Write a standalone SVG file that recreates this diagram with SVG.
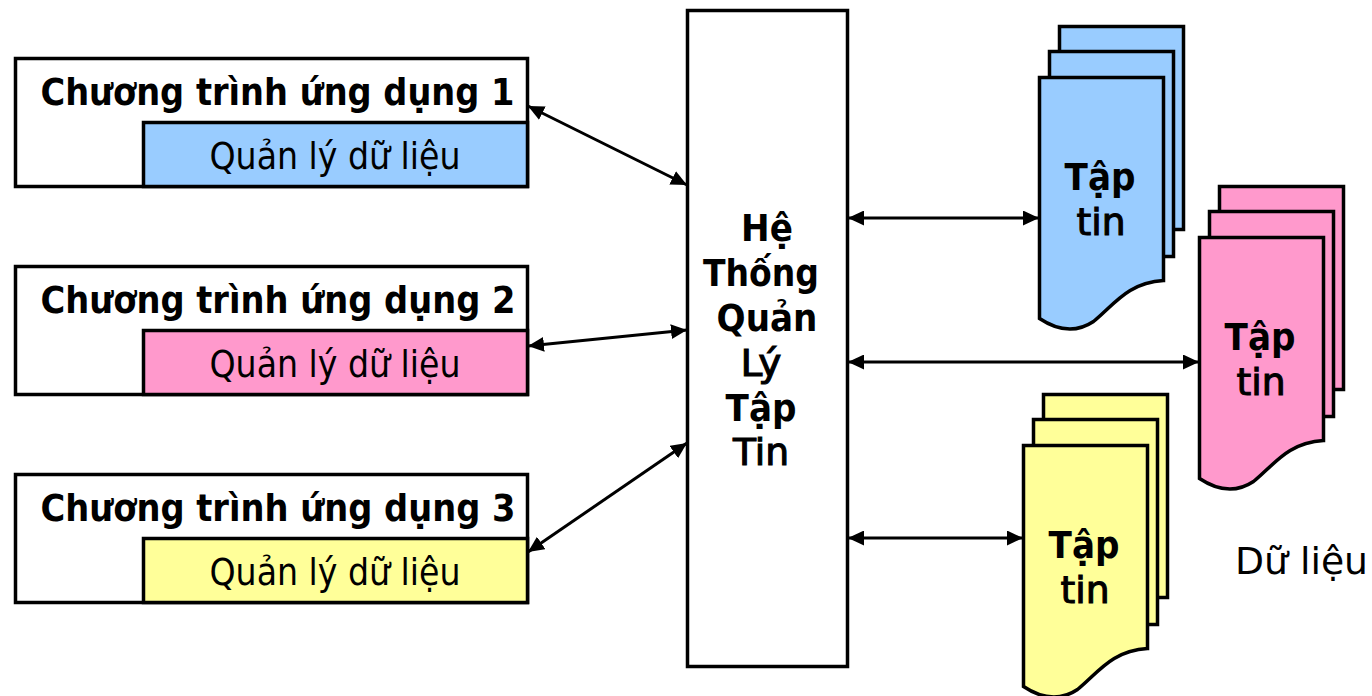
<svg xmlns="http://www.w3.org/2000/svg" xmlns:xlink="http://www.w3.org/1999/xlink" width="1372" height="696" viewBox="0 0 1372 696">
<style>
text{font-family:"DejaVu Sans","Liberation Sans",sans-serif;fill:#000;text-anchor:middle;font-stretch:condensed}
.b{font-weight:bold}
.app{font-size:38px}
.sub{font-size:38px}
.mid{font-size:38px}
.med{stroke:#000;stroke-width:1}
.box{stroke:#000;stroke-width:3.5;fill:#fff}
.blue{fill:#99ccff}.pink{fill:#ff99cc}.yellow{fill:#ffff99}
.c{stroke:#000;stroke-width:3;fill:none;marker-start:url(#a);marker-end:url(#a)}
.sheet{stroke:#000;stroke-width:3.5}
</style>
<defs>
<marker id="a" markerUnits="userSpaceOnUse" markerWidth="17" markerHeight="15" refX="16" refY="7.5" orient="auto-start-reverse"><path d="M0 0L16 7.5L0 15Z" fill="#000"/></marker>
<g id="doc">
<rect class="sheet" x="20" y="-51" width="124" height="203"/>
<rect class="sheet" x="10" y="-26" width="124" height="205"/>
<path class="sheet" d="M0 0H124V203C88 205 74 228 54 244C36 256 18 253 0 241Z"/>
</g>
</defs>
<g id="connectors">
<line class="c" x1="528" y1="106" x2="687" y2="185"/>
<line class="c" x1="528" y1="346" x2="687" y2="330"/>
<line class="c" x1="528" y1="552" x2="687" y2="443"/>
<line class="c" x1="848" y1="218" x2="1039" y2="218"/>
<line class="c" x1="848" y1="362" x2="1199" y2="362"/>
<line class="c" x1="848" y1="538" x2="1023" y2="538"/>
</g>
<g id="app1">
<rect class="box" x="15.5" y="58.5" width="512" height="128"/>
<rect class="box blue" x="143.5" y="122.5" width="384" height="64"/>
<text class="app b" x="277.5" y="105" textLength="474" lengthAdjust="spacingAndGlyphs">Chương trình ứng dụng 1</text>
<text class="sub" x="335" y="169" textLength="251" lengthAdjust="spacingAndGlyphs">Quản lý dữ liệu</text>
</g>
<g id="app2">
<rect class="box" x="15.5" y="266.5" width="512" height="128"/>
<rect class="box pink" x="143.5" y="330.5" width="384" height="64"/>
<text class="app b" x="278" y="313" textLength="475" lengthAdjust="spacingAndGlyphs">Chương trình ứng dụng 2</text>
<text class="sub" x="335" y="377" textLength="251" lengthAdjust="spacingAndGlyphs">Quản lý dữ liệu</text>
</g>
<g id="app3">
<rect class="box" x="15.5" y="474.5" width="512" height="128"/>
<rect class="box yellow" x="143.5" y="538.5" width="384" height="64"/>
<text class="app b" x="278" y="521" textLength="475" lengthAdjust="spacingAndGlyphs">Chương trình ứng dụng 3</text>
<text class="sub" x="335" y="585" textLength="251" lengthAdjust="spacingAndGlyphs">Quản lý dữ liệu</text>
</g>
<g id="dbms">
<rect class="box" x="687.5" y="10.5" width="160" height="656"/>
<text class="mid b" x="767" y="241">Hệ</text>
<text class="mid b" x="761" y="286" textLength="116" lengthAdjust="spacingAndGlyphs">Thống</text>
<text class="mid b" x="767" y="331">Quản</text>
<text class="mid med" x="761" y="376" textLength="41" lengthAdjust="spacingAndGlyphs">Lý</text>
<text class="mid b" x="761" y="421">Tập</text>
<text class="mid med" x="761" y="465" textLength="56" lengthAdjust="spacingAndGlyphs">Tin</text>
</g>
<g id="files-blue" class="blue">
<use xlink:href="#doc" href="#doc" x="1039.5" y="77.5"/>
<text class="mid b" x="1100" y="190">Tập</text>
<text class="mid med" x="1101" y="235" textLength="49" lengthAdjust="spacingAndGlyphs">tin</text>
</g>
<g id="files-pink" class="pink">
<use xlink:href="#doc" href="#doc" x="1199.5" y="237.5"/>
<text class="mid b" x="1260" y="350">Tập</text>
<text class="mid med" x="1261" y="395" textLength="49" lengthAdjust="spacingAndGlyphs">tin</text>
</g>
<g id="files-yellow" class="yellow">
<use xlink:href="#doc" href="#doc" x="1023.5" y="445.5"/>
<text class="mid b" x="1084" y="558">Tập</text>
<text class="mid med" x="1085" y="603" textLength="49" lengthAdjust="spacingAndGlyphs">tin</text>
</g>
<g id="data-label">
<text class="sub" x="1301.5" y="574" textLength="133" lengthAdjust="spacingAndGlyphs">Dữ liệu</text>
</g>
</svg>
